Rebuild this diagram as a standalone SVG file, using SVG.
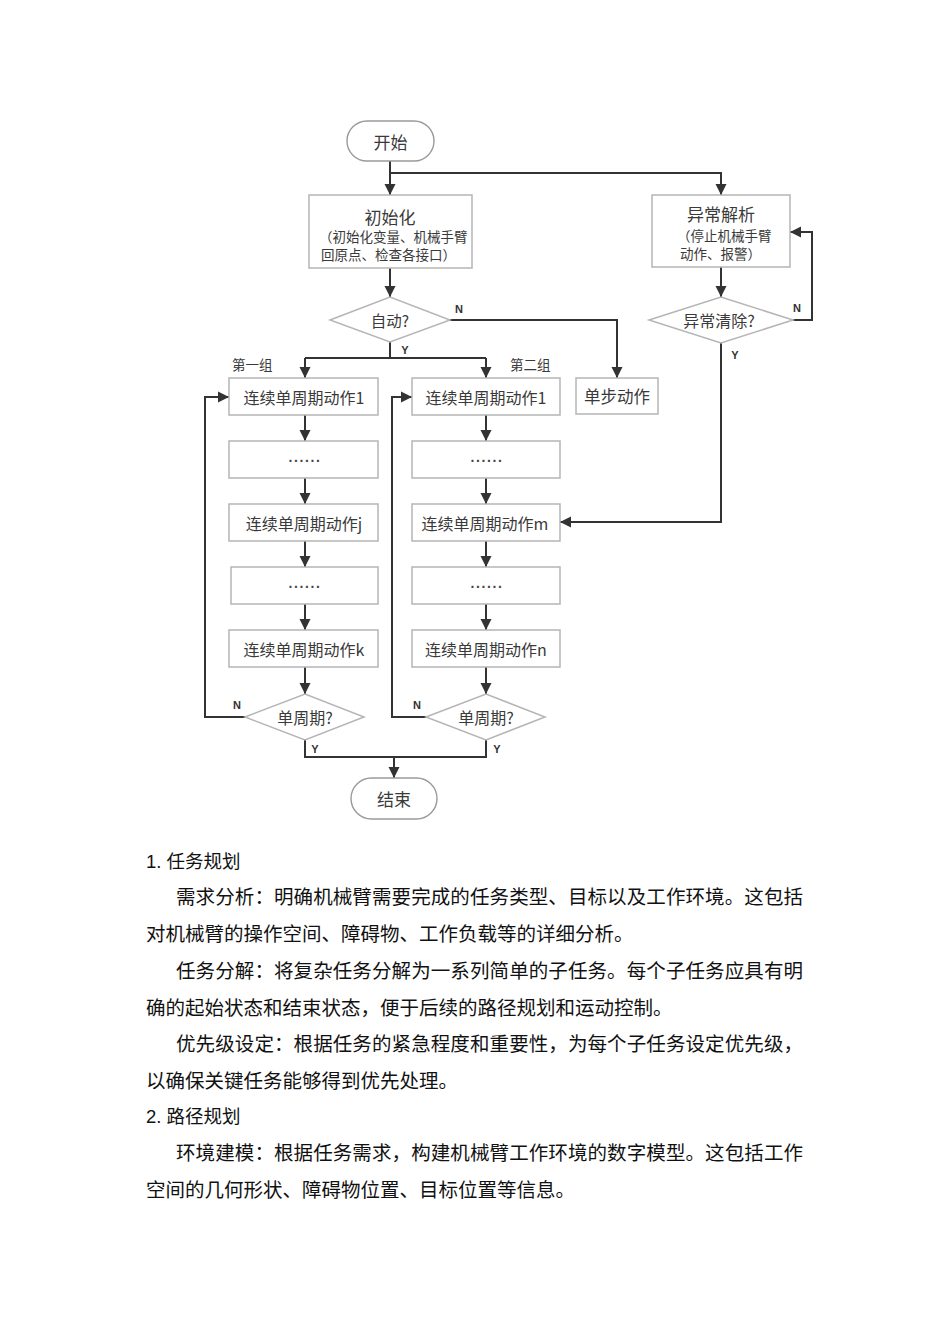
<svg xmlns="http://www.w3.org/2000/svg" width="950" height="1344" viewBox="0 0 950 1344">
<defs>
<marker id="arr" markerUnits="userSpaceOnUse" markerWidth="12" markerHeight="12" refX="11" refY="6" orient="auto">
<path d="M0,0.5 L11,6 L0,11.5 z" fill="#333"/>
</marker>
</defs>
<style>
.box{fill:#fff;stroke:#b5b5b5;stroke-width:1.5}
.term{fill:#fff;stroke:#9a9a9a;stroke-width:1.4}
.dia{fill:#fff;stroke:#b5b5b5;stroke-width:1.5}
.c{fill:none;stroke:#333;stroke-width:2}
.t{font-family:"Noto Sans CJK SC","Liberation Sans",sans-serif;fill:#3a3a3a;text-anchor:middle;dominant-baseline:central}
.dots{font-family:"Liberation Sans",sans-serif;fill:#444;font-size:14px;letter-spacing:1.6px;text-anchor:middle;font-weight:bold}
.s{font-family:"Noto Sans CJK SC","Liberation Sans",sans-serif;fill:#3a3a3a;font-size:13.5px;dominant-baseline:central}
.yn{font-family:"Liberation Sans",sans-serif;font-weight:bold;font-size:11px;fill:#333;text-anchor:middle;dominant-baseline:central}
.body{font-family:"Liberation Serif","Noto Sans CJK SC",serif;font-size:19.5px;fill:#111}
.h{font-family:"Liberation Sans","Noto Sans CJK SC",sans-serif;font-size:18.5px;fill:#111}
</style>
<rect width="950" height="1344" fill="#fff"/>

<g id="connectors">
<path class="c" d="M390,161 V195" marker-end="url(#arr)"/>
<path class="c" d="M390,173 H721 V195" marker-end="url(#arr)"/>
<path class="c" d="M390,268 V297" marker-end="url(#arr)"/>
<path class="c" d="M450,320 H617 V378" marker-end="url(#arr)"/>
<path class="c" d="M390,342 V358"/>
<path class="c" d="M305,358 H486"/>
<path class="c" d="M305,358 V378" marker-end="url(#arr)"/>
<path class="c" d="M486,358 V378" marker-end="url(#arr)"/>
<path class="c" d="M721,267 V297" marker-end="url(#arr)"/>
<path class="c" d="M793,320 H812 V232 H790" marker-end="url(#arr)"/>
<path class="c" d="M721,343 V522 H560" marker-end="url(#arr)"/>
<path class="c" d="M305,415 V441" marker-end="url(#arr)"/>
<path class="c" d="M305,478 V504" marker-end="url(#arr)"/>
<path class="c" d="M305,541 V567" marker-end="url(#arr)"/>
<path class="c" d="M305,604 V630" marker-end="url(#arr)"/>
<path class="c" d="M305,667 V694" marker-end="url(#arr)"/>
<path class="c" d="M486,415 V441" marker-end="url(#arr)"/>
<path class="c" d="M486,478 V504" marker-end="url(#arr)"/>
<path class="c" d="M486,541 V567" marker-end="url(#arr)"/>
<path class="c" d="M486,604 V630" marker-end="url(#arr)"/>
<path class="c" d="M486,667 V694" marker-end="url(#arr)"/>
<path class="c" d="M245,717 H205 V397 H229" marker-end="url(#arr)"/>
<path class="c" d="M426,717 H392 V397 H412" marker-end="url(#arr)"/>
<path class="c" d="M305,740 V757 H486 V740"/>
<path class="c" d="M394,757 V778" marker-end="url(#arr)"/>
<text class="yn" x="459" y="309">N</text>
<text class="yn" x="405" y="350">Y</text>
<text class="yn" x="797" y="308">N</text>
<text class="yn" x="735" y="355">Y</text>
<text class="yn" x="237" y="705">N</text>
<text class="yn" x="417" y="705">N</text>
<text class="yn" x="315" y="749">Y</text>
<text class="yn" x="497" y="749">Y</text>
</g>

<g id="start">
<rect class="term" x="347" y="121" width="87" height="40" rx="20"/>
<text class="t" x="390.5" y="141" font-size="17">开始</text>
</g>

<g id="init">
<rect class="box" x="309" y="195" width="163" height="73"/>
<text class="t" x="390" y="216" font-size="17">初始化</text>
<text class="s" x="319" y="236">（初始化变量、机械手臂</text>
<text class="s" x="321" y="254">回原点、检查各接口）</text>
</g>

<g id="auto">
<polygon class="dia" points="330,320 390,297 450,320 390,342"/>
<text class="t" x="390" y="320" font-size="15.5">自动?</text>
</g>

<g id="exception">
<rect class="box" x="652" y="195" width="138" height="72"/>
<text class="t" x="721" y="213" font-size="17">异常解析</text>
<text class="s" x="677" y="235" font-size="13">（停止机械手臂</text>
<text class="s" x="680" y="253" font-size="13">动作、报警）</text>
</g>

<g id="clear">
<polygon class="dia" points="649,320 721,297 793,320 721,343"/>
<text class="t" x="719" y="320" font-size="16">异常清除?</text>
</g>

<g id="step">
<rect class="box" x="576" y="378" width="82" height="36"/>
<text class="t" x="617" y="396" font-size="16.5">单步动作</text>
</g>

<g id="group1-label">
<text class="s" x="232" y="364" font-size="13.5">第一组</text>
</g>
<g id="group2-label">
<text class="s" x="510" y="364" font-size="13.5">第二组</text>
</g>

<g id="g1-a1">
<rect class="box" x="229" y="378" width="149" height="37"/>
<text class="t" x="304" y="396.5" font-size="16">连续单周期动作1</text>
</g>
<g id="g1-d1">
<rect class="box" x="229" y="441" width="149" height="37"/>
<text class="dots" x="305" y="462">......</text>
</g>
<g id="g1-aj">
<rect class="box" x="229" y="504" width="149" height="37"/>
<text class="t" x="304" y="522.5" font-size="16">连续单周期动作j</text>
</g>
<g id="g1-d2">
<rect class="box" x="231" y="567" width="147" height="37"/>
<text class="dots" x="305" y="588">......</text>
</g>
<g id="g1-ak">
<rect class="box" x="229" y="630" width="149" height="37"/>
<text class="t" x="304" y="648.5" font-size="16">连续单周期动作k</text>
</g>
<g id="g1-dec">
<polygon class="dia" points="245,717 305,694 364,717 305,740"/>
<text class="t" x="305" y="717" font-size="16">单周期?</text>
</g>

<g id="g2-a1">
<rect class="box" x="412" y="378" width="148" height="37"/>
<text class="t" x="486" y="396.5" font-size="16">连续单周期动作1</text>
</g>
<g id="g2-d1">
<rect class="box" x="412" y="441" width="148" height="37"/>
<text class="dots" x="487" y="462">......</text>
</g>
<g id="g2-am">
<rect class="box" x="412" y="504" width="148" height="37"/>
<text class="t" x="485" y="522.5" font-size="16">连续单周期动作m</text>
</g>
<g id="g2-d2">
<rect class="box" x="412" y="567" width="148" height="37"/>
<text class="dots" x="487" y="588">......</text>
</g>
<g id="g2-an">
<rect class="box" x="412" y="630" width="148" height="37"/>
<text class="t" x="486" y="648.5" font-size="16">连续单周期动作n</text>
</g>
<g id="g2-dec">
<polygon class="dia" points="426,717 486,694 545,717 486,740"/>
<text class="t" x="486" y="717" font-size="16">单周期?</text>
</g>

<g id="end">
<rect class="term" x="351" y="778" width="86" height="41" rx="20.5"/>
<text class="t" x="394" y="798.5" font-size="17">结束</text>
</g>

<g id="text">
<text class="h" x="146" y="868">1. 任务规划</text>
<text class="body" x="176" y="904" textLength="627" lengthAdjust="spacing">需求分析：明确机械臂需要完成的任务类型、目标以及工作环境。这包括</text>
<text class="body" x="146" y="941">对机械臂的操作空间、障碍物、工作负载等的详细分析。</text>
<text class="body" x="176" y="978" textLength="627" lengthAdjust="spacing">任务分解：将复杂任务分解为一系列简单的子任务。每个子任务应具有明</text>
<text class="body" x="146" y="1015">确的起始状态和结束状态，便于后续的路径规划和运动控制。</text>
<text class="body" x="176" y="1051" textLength="627" lengthAdjust="spacing">优先级设定：根据任务的紧急程度和重要性，为每个子任务设定优先级，</text>
<text class="body" x="146" y="1088">以确保关键任务能够得到优先处理。</text>
<text class="h" x="146" y="1123">2. 路径规划</text>
<text class="body" x="176" y="1160" textLength="627" lengthAdjust="spacing">环境建模：根据任务需求，构建机械臂工作环境的数字模型。这包括工作</text>
<text class="body" x="146" y="1197">空间的几何形状、障碍物位置、目标位置等信息。</text>
</g>
</svg>
